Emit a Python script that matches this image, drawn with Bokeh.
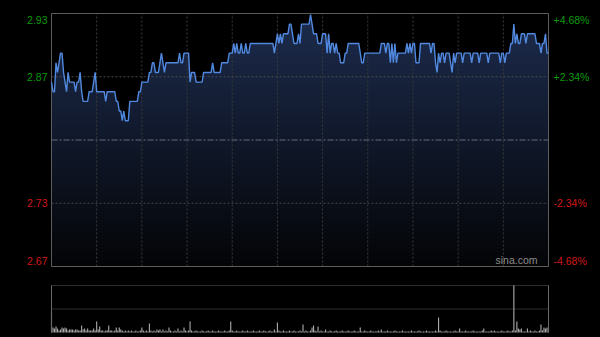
import numpy as np
from bokeh.plotting import figure
from bokeh.layouts import column
from bokeh.models import Range1d
from bokeh.core.properties import value
from bokeh.embed import file_html
from bokeh.resources import INLINE

# ---------------- data ----------------
prev_close = 2.80
pct_levels = [4.68, 2.34, 0.0, -2.34, -4.68]
left_labels = ["2.93", "2.87", "", "2.73", "2.67"]
right_labels = ["+4.68%", "+2.34%", "", "-2.34%", "-4.68%"]
time_grid = [30, 60, 90, 120, 150, 180, 210, 240, 270, 300]   # every 30 trading minutes

price = [
    2.86, 2.85, 2.85, 2.88, 2.87, 2.88, 2.89, 2.89, 2.87, 2.86,
    2.85, 2.87, 2.86, 2.86, 2.86, 2.86, 2.85, 2.86, 2.86, 2.87,
    2.85, 2.84, 2.84, 2.84, 2.84, 2.85, 2.85, 2.85, 2.86, 2.87,
    2.85, 2.85, 2.85, 2.85, 2.85, 2.85, 2.84, 2.85, 2.85, 2.85,
    2.85, 2.85, 2.85, 2.84, 2.84, 2.83, 2.83, 2.82, 2.83, 2.82,
    2.82, 2.82, 2.84, 2.84, 2.84, 2.84, 2.84, 2.84, 2.85, 2.85,
    2.86, 2.86, 2.86, 2.86, 2.86, 2.87, 2.87, 2.88, 2.88, 2.87,
    2.87, 2.87, 2.88, 2.89, 2.88, 2.87, 2.88, 2.88, 2.88, 2.88,
    2.88, 2.88, 2.88, 2.88, 2.88, 2.89, 2.88, 2.88, 2.89, 2.89,
    2.89, 2.89, 2.86, 2.87, 2.87, 2.87, 2.86, 2.86, 2.86, 2.86,
    2.86, 2.87, 2.87, 2.87, 2.87, 2.87, 2.87, 2.88, 2.87, 2.87,
    2.87, 2.87, 2.87, 2.88, 2.88, 2.88, 2.88, 2.88, 2.89, 2.89,
    2.89, 2.90, 2.89, 2.90, 2.89, 2.89, 2.90, 2.89, 2.89, 2.90,
    2.89, 2.89, 2.90, 2.90, 2.90, 2.90, 2.90, 2.90, 2.90, 2.90,
    2.90, 2.90, 2.90, 2.90, 2.90, 2.90, 2.90, 2.90, 2.89, 2.90,
    2.91, 2.90, 2.91, 2.90, 2.91, 2.91, 2.91, 2.91, 2.92, 2.92,
    2.91, 2.90, 2.90, 2.90, 2.91, 2.90, 2.92, 2.92, 2.92, 2.92,
    2.92, 2.92, 2.93, 2.92, 2.91, 2.91, 2.91, 2.90, 2.90, 2.90,
    2.91, 2.91, 2.91, 2.89, 2.91, 2.89, 2.90, 2.90, 2.89, 2.90,
    2.89, 2.89, 2.88, 2.88, 2.88, 2.89, 2.89, 2.90, 2.90, 2.90,
    2.90, 2.90, 2.90, 2.90, 2.90, 2.89, 2.88, 2.88, 2.89, 2.89,
    2.89, 2.89, 2.89, 2.89, 2.89, 2.89, 2.89, 2.89, 2.89, 2.90,
    2.90, 2.90, 2.89, 2.90, 2.90, 2.88, 2.90, 2.88, 2.90, 2.88,
    2.89, 2.89, 2.89, 2.89, 2.89, 2.89, 2.90, 2.89, 2.90, 2.89,
    2.90, 2.90, 2.88, 2.88, 2.88, 2.90, 2.90, 2.90, 2.90, 2.90,
    2.90, 2.90, 2.89, 2.90, 2.90, 2.88, 2.87, 2.89, 2.88, 2.89,
    2.89, 2.88, 2.89, 2.89, 2.89, 2.88, 2.87, 2.89, 2.88, 2.89,
    2.89, 2.89, 2.89, 2.88, 2.89, 2.89, 2.89, 2.89, 2.89, 2.88,
    2.89, 2.89, 2.89, 2.89, 2.88, 2.89, 2.89, 2.89, 2.89, 2.89,
    2.88, 2.89, 2.89, 2.89, 2.89, 2.89, 2.89, 2.89, 2.88, 2.89,
    2.89, 2.88, 2.89, 2.89, 2.89, 2.90, 2.90, 2.92, 2.90, 2.91,
    2.90, 2.90, 2.91, 2.91, 2.91, 2.90, 2.91, 2.91, 2.91, 2.91,
    2.91, 2.91, 2.90, 2.90, 2.90, 2.89, 2.90, 2.90, 2.91, 2.89,
    2.89,
]

volume = [
    20, 5, 4, 6, 4, 2, 3, 5, 4, 5,
    4, 2, 3, 3, 3, 2, 3, 3, 2, 2,
    7, 3, 4, 2, 4, 2, 2, 2, 4, 2,
    11, 3, 6, 2, 2, 1, 2, 2, 7, 2,
    2, 1, 2, 5, 2, 5, 3, 2, 1, 2,
    1, 2, 1, 2, 1, 1, 2, 1, 1, 2,
    5, 2, 1, 2, 1, 9, 2, 1, 2, 1,
    3, 2, 3, 1, 3, 1, 2, 1, 5, 2,
    1, 1, 2, 1, 4, 1, 2, 1, 5, 2,
    1, 2, 11, 2, 1, 1, 2, 1, 1, 1,
    2, 1, 1, 1, 2, 1, 1, 2, 1, 1,
    1, 2, 1, 1, 1, 2, 1, 1, 2, 11,
    2, 1, 1, 2, 1, 1, 1, 2, 1, 1,
    2, 1, 1, 1, 2, 1, 1, 1, 2, 1,
    1, 2, 1, 1, 1, 2, 1, 1, 3, 1,
    10, 2, 1, 1, 2, 1, 1, 1, 2, 1,
    1, 2, 1, 1, 1, 2, 1, 8, 1, 2,
    1, 1, 2, 5, 7, 2, 1, 6, 1, 2,
    1, 1, 3, 1, 1, 2, 1, 1, 1, 2,
    1, 1, 1, 2, 1, 1, 1, 2, 1, 1,
    1, 2, 1, 1, 1, 5, 1, 1, 2, 1,
    1, 1, 2, 1, 1, 1, 1, 2, 1, 3,
    1, 1, 1, 2, 1, 1, 1, 1, 2, 1,
    1, 1, 1, 2, 1, 1, 1, 1, 1, 2,
    1, 1, 1, 1, 2, 1, 1, 1, 1, 2,
    1, 1, 1, 1, 1, 2, 1, 15, 2, 1,
    1, 1, 2, 1, 1, 1, 1, 1, 2, 1,
    1, 4, 1, 1, 1, 2, 1, 1, 1, 1,
    2, 1, 1, 1, 1, 1, 2, 4, 1, 1,
    1, 1, 2, 1, 2, 1, 1, 1, 1, 2,
    1, 1, 1, 2, 1, 1, 2, 47, 2, 11,
    4, 3, 4, 1, 1, 1, 4, 1, 2, 1,
    1, 2, 1, 1, 2, 8, 2, 5, 4, 5,
    4,
]

# ---------------- derived ----------------
minutes = np.arange(len(price))
n_last = len(price) - 1
level_prices = [prev_close * (1 + v / 100.0) for v in pct_levels]
y_lo = prev_close * (1 - pct_levels[0] / 100.0)
y_hi = prev_close * (1 + pct_levels[0] / 100.0)
vmax = max(volume)

BG = "#000000"
GREEN = "#0b9a0b"
RED = "#d01818"
FONT = "Liberation Sans"
FS = "10.5px"

# layout (pixels)
W = 600
PAD_L, PAD_R = 51, 52
H_MAIN, PAD_T, PAD_B = 275, 13, 9
H_VOL, VPAD_T, VPAD_B = 62, 10, 5
FRAME_W = W - PAD_L - PAD_R
FRAME_H = H_MAIN - PAD_T - PAD_B
VFRAME_H = H_VOL - VPAD_T - VPAD_B

kx = n_last / FRAME_W
ky = (y_hi - y_lo) / FRAME_H
kv = vmax / VFRAME_H

# both canvases use their whole area as plotting frame, so the scale texts are not clipped
x_range = Range1d(-PAD_L * kx, n_last + PAD_R * kx)
common = dict(output_backend="svg", toolbar_location=None, x_axis_type=None, y_axis_type=None,
              background_fill_color=BG, border_fill_color=BG, outline_line_color=None,
              min_border=0, min_border_left=0, min_border_right=0,
              min_border_top=0, min_border_bottom=0)

p = figure(width=W, height=H_MAIN, x_range=x_range,
           y_range=Range1d(y_lo - PAD_B * ky, y_hi + PAD_T * ky), **common)

# vertical gradient under the price line (image), masked above the line with black
N = 256
t = np.linspace(0.0, 1.0, N)[:, None]          # 0 bottom -> 1 top
top_c = np.array([29, 44, 78])
bot_c = np.array([4, 5, 7])
cols = (bot_c[None, :] * (1 - t) + top_c[None, :] * t).astype(np.uint32)
img = np.empty((N, 1), dtype=np.uint32)
view = img.view(dtype=np.uint8).reshape((N, 1, 4))
view[:, :, 0] = cols[:, 0:1]
view[:, :, 1] = cols[:, 1:2]
view[:, :, 2] = cols[:, 2:3]
view[:, :, 3] = 255
p.image_rgba(image=[img], x=0, y=y_lo, dw=n_last, dh=y_hi - y_lo)
p.varea(x=minutes, y1=price, y2=[y_hi] * len(price), fill_color=BG)

# grid lines
p.segment(x0=time_grid, y0=[y_lo] * len(time_grid), x1=time_grid, y1=[y_hi] * len(time_grid),
          line_color="#3a3a3a", line_dash="2 2", line_width=1)
side_levels = [level_prices[1], level_prices[3]]
p.segment(x0=[0, 0], y0=side_levels, x1=[n_last, n_last], y1=side_levels,
          line_color="#4a4a4a", line_dash="2 2", line_width=1)
p.segment(x0=[0], y0=[prev_close], x1=[n_last], y1=[prev_close],
          line_color="#626a7a", line_dash="6 2 2 2", line_width=1)

# frame
p.quad(left=[0], right=[n_last], bottom=[y_lo], top=[y_hi], fill_color=None,
       line_color="#5c5c5c", line_width=1)

# price line
p.line(minutes, price, line_color="#5189e0", line_width=1.4)

# scale texts
for i, (lv, lt, rt) in enumerate(zip(level_prices, left_labels, right_labels)):
    if not lt:
        continue
    col = GREEN if pct_levels[i] > 0 else RED
    if i == 0:
        dy = 6
    elif i == len(level_prices) - 1:
        dy = -6
    else:
        dy = 0
    p.text(x=[0], y=[lv], text=[lt], x_offset=-4, y_offset=dy, text_align="right",
           text_baseline="middle", text_color=col, text_font=value(FONT), text_font_size=FS)
    p.text(x=[n_last], y=[lv], text=[rt], x_offset=5, y_offset=dy, text_align="left",
           text_baseline="middle", text_color=col, text_font=value(FONT), text_font_size=FS)

p.text(x=[n_last], y=[y_lo], text=["sina.com"], x_offset=-11, y_offset=-1,
       text_align="right", text_baseline="bottom", text_color="#8c8c8c",
       text_font=value(FONT), text_font_size=FS)

# ---------------- volume panel ----------------
pv = figure(width=W, height=H_VOL, x_range=x_range,
            y_range=Range1d(-VPAD_B * kv, vmax + VPAD_T * kv), **common)
vgrid_levels = [vmax / 2.0, vmax]
pv.segment(x0=[0, 0], y0=vgrid_levels, x1=[n_last, n_last], y1=vgrid_levels,
           line_color="#5a5a5a", line_dash="1 1", line_width=1)
pv.vbar(x=minutes, top=volume, bottom=0, width=0.75, fill_color="#a8a8a8",
        line_color=None)
pv.segment(x0=[0, n_last], y0=[0, 0], x1=[0, n_last], y1=[vmax, vmax],
           line_color="#6a6a6a", line_width=1)

layout = column(p, pv, spacing=0, styles={"background-color": BG})
open("out.html", "w").write(file_html(layout, INLINE))
